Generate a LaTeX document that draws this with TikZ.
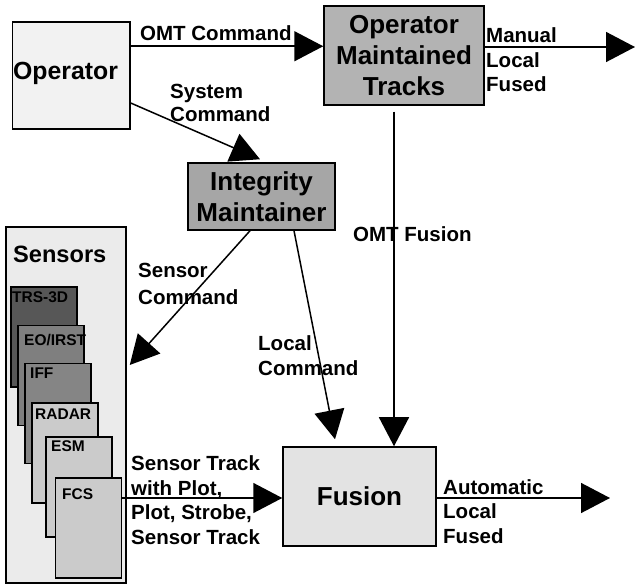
\documentclass[tikz,border=0pt]{standalone}
\usepackage{fontspec}
\setmainfont{Liberation Sans}
\usetikzlibrary{arrows.meta}
\definecolor{opfill}{HTML}{F2F2F2}
\definecolor{omtfill}{HTML}{B3B3B3}
\definecolor{imfill}{HTML}{A6A6A6}
\definecolor{fusfill}{HTML}{E3E3E3}
\definecolor{sensfill}{HTML}{EBEBEB}
\definecolor{trsfill}{HTML}{575757}
\definecolor{eofill}{HTML}{7F7F7F}
\definecolor{ifffill}{HTML}{858585}
\definecolor{ltfill}{HTML}{CBCBCB}
\tikzset{
  box/.style={draw, line width=1.5pt, inner sep=0pt},
  card/.style={draw, line width=1.2pt, inner sep=0pt, minimum width=66pt, minimum height=100pt},
  bigtxt/.style={align=center, font=\fontsize{26}{31}\selectfont\bfseries},
  lbl/.style={inner sep=0pt, anchor=base west, font=\fontsize{20.5}{24.5}\selectfont\bfseries},
  smlbl/.style={inner sep=0pt, anchor=base west, font=\fontsize{15.5}{18}\selectfont\bfseries},
  arr/.style={line width=1.5pt, -{Triangle[length=29pt,width=30pt]}},
}
\begin{document}
\begin{tikzpicture}[x=1pt,y=-1pt]
\useasboundingbox (0,0) rectangle (635,585);
% boxes
\node[box, fill=opfill, minimum width=117.3pt, minimum height=107pt] (op) at (71.3,75.5) {};
\node[lbl, font=\fontsize{24.8}{30}\selectfont\bfseries] (optext) at (13,80) {Operator};
\node[box, bigtxt, fill=omtfill, minimum width=160pt, minimum height=99pt] (omt) at (404,55.5) {Operator\\Maintained\\Tracks};
\node[box, bigtxt, fill=imfill, minimum width=147pt, minimum height=67pt] (im) at (261.5,196.5) {Integrity\\Maintainer};
\node[box, bigtxt, fill=fusfill, minimum width=153pt, minimum height=99pt] (fus) at (359.5,496.5) {Fusion};
\node[box, fill=sensfill, minimum width=120pt, minimum height=356pt] (sens) at (66,405) {};
\node[lbl, font=\fontsize{23.6}{28}\selectfont\bfseries] (senstext) at (13,263) {Sensors};
% sensor cards
\node[card, fill=trsfill] (trs) at (44,337) {};
\node[smlbl] (trstext) at (12,303) {TRS-3D};
\node[card, fill=eofill] (eo) at (51,375.5) {};
\node[smlbl] (eotext) at (24,346) {EO/IRST};
\node[card, fill=ifffill] (iff) at (58,413.5) {};
\node[smlbl] (ifftext) at (30,379) {IFF};
\node[card, fill=ltfill] (radar) at (65,453) {};
\node[smlbl] (radartext) at (35,420) {RADAR};
\node[card, fill=ltfill] (esm) at (79,487) {};
\node[smlbl] (esmtext) at (51,452) {ESM};
\node[card, fill=ltfill] (fcs) at (88.5,528) {};
\node[smlbl] (fcstext) at (62,499) {FCS};
% free ends
\coordinate (mout) at (635,47);
\coordinate (aout) at (610,498);
% connectors
\draw[arr] ([yshift=-25pt]op.north east) coordinate (c1) -- (c1 -| omt.west);
\draw[arr] ([yshift=8.5pt]omt.east) -- (mout);
\draw[arr] ([yshift=-27.5pt]op.east) -- ([xshift=-1.5pt,yshift=3pt]im.north);
\draw[arr] ([xshift=-11.5pt]im.south) -- ([xshift=3pt,yshift=40pt]sens.east);
\draw[arr] ([xshift=32.5pt]im.south) -- ([xshift=-24.5pt,yshift=7pt]fus.north);
\draw[arr] ([xshift=-10pt,yshift=-6pt]omt.south) coordinate (c2) -- (c2 |- fus.north);
\draw[arr] ([yshift=30pt]fcs.east) coordinate (c3) -- (c3 -| fus.west);
\draw[arr] (fus.east |- aout) -- (aout);
% labels
\node[lbl] (l1) at (140,41) {OMT Command};
\node[lbl] (l2a) at (486,43) {Manual};
\node[lbl] (l2b) at (486,68) {Local};
\node[lbl] (l2c) at (486,92) {Fused};
\node[lbl] (l3a) at (170,99) {System};
\node[lbl] (l3b) at (170,122) {Command};
\node[lbl] (l4) at (353,242) {OMT Fusion};
\node[lbl] (l5a) at (138,278) {Sensor};
\node[lbl] (l5b) at (138,305) {Command};
\node[lbl] (l6a) at (258,351) {Local};
\node[lbl] (l6b) at (258,376) {Command};
\node[lbl] (l7a) at (131,470) {Sensor Track};
\node[lbl] (l7b) at (131,495) {with Plot,};
\node[lbl] (l7c) at (131,519) {Plot, Strobe,};
\node[lbl] (l7d) at (131,544) {Sensor Track};
\node[lbl] (l8a) at (443,494) {Automatic};
\node[lbl] (l8b) at (443,518) {Local};
\node[lbl] (l8c) at (443,543) {Fused};
\end{tikzpicture}
\end{document}
